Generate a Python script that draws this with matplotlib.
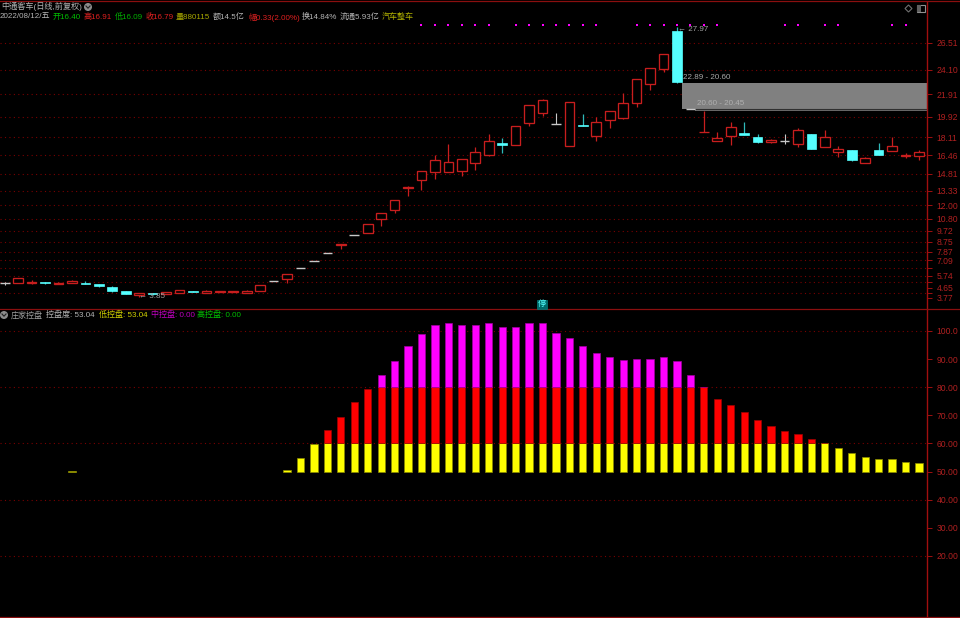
import numpy as np
import matplotlib
matplotlib.use("Agg")
import matplotlib.pyplot as plt
from matplotlib.patches import Rectangle, Circle, Polygon
from matplotlib.lines import Line2D
from matplotlib.transforms import blended_transform_factory

plt.rcParams['font.family'] = ['Liberation Sans', 'Noto Sans CJK SC', 'DejaVu Sans']

# ---------- data ----------
opens = [5.05,5.10,5.11,5.17,5.03,5.05,5.12,4.99,4.69,4.34,4.03,4.21,4.07,4.16,4.39,4.21,4.31,4.27,4.21,4.39,
         5.28,5.46,6.39,7.07,7.75,8.46,9.36,9.51,10.82,11.59,13.53,14.30,15.01,15.01,15.05,15.76,16.53,17.56,17.37,19.39,
         20.28,19.25,17.31,19.21,18.23,19.60,19.78,21.17,22.82,24.21,27.55,20.60,18.52,17.73,18.20,18.44,18.11,17.64,17.73,17.46,
         18.41,17.25,16.80,16.95,15.82,16.95,16.83,16.45,16.40]
closes = [5.05,5.50,5.16,5.04,5.12,5.23,5.03,4.81,4.34,4.12,4.18,4.12,4.25,4.42,4.30,4.39,4.36,4.33,4.39,4.87,
          5.28,5.85,6.39,7.07,7.75,8.56,9.36,10.32,11.30,12.46,13.67,15.05,16.09,15.85,16.12,16.80,17.73,17.37,19.07,20.94,
          21.39,19.25,21.21,19.13,19.45,20.41,21.12,23.26,24.25,25.49,22.99,20.60,18.60,18.02,19.03,18.32,17.64,17.87,17.73,18.71,
          17.07,18.09,17.01,16.03,16.26,16.53,17.33,16.50,16.79]
highs = [5.19,5.50,5.32,5.17,5.15,5.34,5.25,4.99,4.78,4.34,4.18,4.21,4.25,4.42,4.39,4.48,4.38,4.39,4.42,4.87,
         5.28,5.85,6.39,7.07,7.75,8.56,9.36,10.32,11.30,12.46,13.75,15.05,16.48,17.49,16.12,17.22,18.35,18.02,19.07,20.94,
         21.50,20.23,21.21,20.14,19.87,20.41,22.01,23.26,24.25,25.49,27.97,20.60,20.45,18.56,19.48,19.48,18.38,17.93,18.38,18.89,
         18.41,18.71,17.33,16.95,16.30,17.55,18.11,16.66,16.91]
lows = [4.90,5.10,5.01,4.96,5.00,5.05,4.99,4.75,4.27,4.07,3.85,4.03,4.07,4.16,4.30,4.21,4.30,4.25,4.21,4.39,
        5.28,5.10,6.39,7.07,7.75,8.14,9.36,9.51,10.19,11.35,12.87,13.41,14.33,15.01,14.60,15.17,16.42,16.71,17.37,19.12,
        20.01,19.25,17.31,19.13,17.78,18.89,19.69,20.82,22.31,23.94,22.89,20.60,18.52,17.73,17.37,18.32,17.55,17.58,17.46,17.25,
        17.07,17.25,16.32,15.94,15.82,16.53,16.83,16.21,16.09]

signal_days = [31,32,33,34,35,36,38,39,40,41,42,43,44,47,48,49,50,51,52,53,58,59,61,62,66,67]

gap_upper = (22.89, 20.60)
gap_lower = (20.60, 20.45)
gap_start_days = (50, 51)

price_ticks = [26.51,24.10,21.91,19.92,18.11,16.46,14.81,13.33,12.00,10.80,9.72,8.75,7.87,7.09,5.74,4.65,3.77]
price_minor = [6.38,5.17,4.19]
price_grid = [26.51,24.10,21.91,19.92,18.11,16.46,14.81,13.33,12.00,10.80,9.72,8.75,7.87,7.09,6.38,5.74,5.17,4.19]

control_days = list(range(21,69))
control = [50.6,54.9,59.7,64.7,69.5,74.7,79.5,84.4,89.4,94.7,98.9,102.0,103.0,102.2,102.2,102.7,101.5,101.5,103.0,102.7,
           99.2,97.5,94.7,92.1,90.6,89.7,89.9,90.1,90.6,89.4,84.2,80.1,75.9,73.6,71.2,68.3,66.2,64.3,63.3,61.5,
           60.2,58.5,56.7,55.1,54.6,54.3,53.3,53.04]
extra_day = 5
extra_value = 50.3
control_ticks = [100,90,80,70,60,50,40,30,20]
control_labels = ['100.0','90.00','80.00','70.00','60.00','50.00','40.00','30.00','20.00']
control_grid = [100,80,60,40,20]

W, H = 960, 618
RED = '#c81e1e'
CYAN = '#55ffff'
AX = '#a00f0f'
LBL = '#b02020'
GRID = '#7a0000'
BG = '#000000'

fig = plt.figure(figsize=(W/100, H/100), dpi=100, facecolor=BG)

def mk(top, bot):
    a = fig.add_axes([0, 1-bot/H, 927.3/W, (bot-top)/H], facecolor=BG)
    a.set_xlim(-0.35, 68.62)
    a.set_xticks([])
    for s in ('left','top','bottom'):
        a.spines[s].set_visible(False)
    a.spines['right'].set_color(AX)
    a.spines['right'].set_linewidth(1.0)
    a.yaxis.tick_right()
    a.tick_params(axis='y', which='both', colors=AX, length=3.6, width=0.7, pad=3.0,
                  labelsize=6.2, labelcolor=LBL)
    return a

# ---------- price panel ----------
ax = mk(1.5, 309)
ax.set_ylim((339.85-309)/11.2, (339.85-1.5)/11.2)
ax.set_yticks(price_ticks)
ax.set_yticklabels([f'{v:.2f}' for v in price_ticks])
ax.set_yticks(price_minor, minor=True)
ax.hlines(price_grid, -0.35, 68.62, colors=GRID, linewidth=0.8, linestyles=(0, (1, 3)), zorder=1)

xr = 68.62
ax.add_patch(Rectangle((gap_start_days[0]+0.37, gap_upper[1]), xr-gap_start_days[0]-0.37,
                       gap_upper[0]-gap_upper[1], facecolor='#808080', edgecolor='none', zorder=2))
ax.add_patch(Rectangle((gap_start_days[1]+0.37, gap_lower[1]), xr-gap_start_days[1]-0.37,
                       gap_lower[0]-gap_lower[1], facecolor='#6a6a6a', edgecolor='none', zorder=2))
ax.hlines(gap_lower[0], gap_start_days[1]+0.37, xr, colors='#303030', linewidth=0.8, zorder=2.1)

w = 0.72
for i, (o, c, h, l) in enumerate(zip(opens, closes, highs, lows)):
    top, bot = max(o, c), min(o, c)
    if o == c:
        col = '#c8c8c8'
        ax.vlines(i, l, h, colors=col, linewidth=0.8, zorder=3)
        ax.hlines(o, i-w/2, i+w/2, colors=col, linewidth=1.0, zorder=4)
    elif c > o:
        ax.vlines(i, l, h, colors=RED, linewidth=0.9, zorder=3)
        ax.add_patch(Rectangle((i-w/2, bot), w, top-bot, facecolor=BG, edgecolor=RED, linewidth=0.95, zorder=4))
    else:
        ax.vlines(i, l, h, colors='#2fb8b8', linewidth=0.9, zorder=3)
        ax.add_patch(Rectangle((i-w/2, bot), w, top-bot, facecolor=CYAN, edgecolor=CYAN, linewidth=0.5, zorder=4))

tr = blended_transform_factory(ax.transData, ax.transAxes)
ax.scatter(signal_days, [1-(24.7-1.5)/(309-1.5)]*len(signal_days), transform=tr,
           marker='s', s=3.2, c='#ff00ff', linewidths=0, zorder=5)

# ---------- control panel ----------
bx = mk(309.5, 617)
bx.set_ylim(50+(471.5-617)/2.81, 50+(471.5-309.5)/2.81)
bx.set_yticks(control_ticks)
bx.set_yticklabels(control_labels)
bx.hlines(control_grid, -0.35, 68.62, colors=GRID, linewidth=0.8, linestyles=(0, (1, 3)), zorder=1)

v = np.array(control, dtype=float)
d = np.array(control_days)
low = np.minimum(v, 60) - 50
mid = np.clip(v-60, 0, 20)
hi = np.clip(v-80, 0, None)
bw = 0.54
bx.bar(d, low, bottom=50, width=bw, color='#ffff00', edgecolor='#8a8a00', linewidth=0.5, zorder=3)
bx.bar(d[mid>0], mid[mid>0], bottom=60, width=bw, color='#ff0000', edgecolor='#a00000', linewidth=0.5, zorder=3)
bx.bar(d[hi>0], hi[hi>0], bottom=80, width=bw, color='#ff00ff', edgecolor='#a000a0', linewidth=0.5, zorder=3)
bx.bar([extra_day], [extra_value-50], bottom=50, width=bw, color='#ffff00', edgecolor='#8a8a00', linewidth=0.5, zorder=3)

# ---------- overlay in pixel coordinates ----------
ov = fig.add_axes([0, 0, 1, 1], facecolor='none')
ov.set_xlim(0, W); ov.set_ylim(H, 0); ov.axis('off')

for y in (1.3, 309.3, 617.3):
    ov.add_line(Line2D([0, W], [y, y], color='#8a0f0f', linewidth=0.9))

def T(x, y, s, c, fs=5.8, **k):
    ov.text(x, y, s, color=c, fontsize=fs, va='center', ha='left', **k)

GR = '#b4b4b4'
T(1, 6.5, '中通客车(日线,前复权)', GR, 5.9)
T(0, 17, '2022/08/12/五', GR, 5.8)
T(53, 17, '开16.40', '#00c000')
T(83, 17, '高16.91', '#e02020')
T(115, 17, '低16.09', '#00b000')
T(145, 17, '收16.79', '#e02020')
T(176, 17, '量880115', '#a8a800')
T(213, 17, '额14.5亿', GR)
T(248, 17, '幅0.33(2.00%)', '#e02020')
T(302, 17, '换14.84%', GR)
T(340, 17, '流通5.93亿', GR)
T(382, 17, '汽车整车', '#b0b000')

T(11, 315, '庄家控盘', '#a0a0a0')
T(46, 315, '控盘度: 53.04', GR)
T(99, 315, '低控盘: 53.04', '#d0d000')
T(151, 315, '中控盘: 0.00', '#c000c0')
T(197, 315, '高控盘: 0.00', '#00c000')

T(678, 29.5, '← 27.97', '#a0a0a0')
T(683, 77.5, '22.89 - 20.60', '#a8a8a8')
T(697, 103.5, '20.60 - 20.45', '#b0b0b0')
T(139, 296.5, '← 3.85', '#a0a0a0')

ov.text(542, 304.5, '停', color=CYAN, fontsize=6, ha='center', va='center',
        bbox=dict(boxstyle='square,pad=0.12', facecolor='#006a6a', edgecolor='#007c7c', linewidth=0.5))

# icons
for cx, cy in ((88, 7), (4, 315)):
    ov.add_patch(Circle((cx, cy), 4, facecolor='#8c8c8c', edgecolor='none'))
    ov.add_line(Line2D([cx-2, cx, cx+2], [cy-1, cy+1.2, cy-1], color='#202020', linewidth=0.8))
ov.add_patch(Polygon([(908.5, 5), (912, 8.5), (908.5, 12), (905, 8.5)], closed=True,
                     facecolor='none', edgecolor='#707070', linewidth=0.8))
ov.add_patch(Rectangle((917, 5), 8, 7, facecolor='none', edgecolor='#909090', linewidth=0.8))
ov.add_patch(Rectangle((917, 5), 4, 7, facecolor='#606060', edgecolor='none'))

fig.savefig('out.png', dpi=100, facecolor=BG)
